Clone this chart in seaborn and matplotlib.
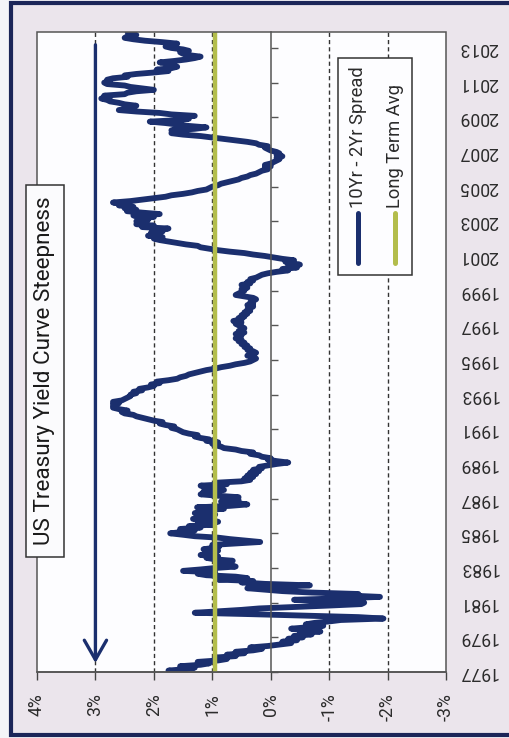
import numpy as np
import pandas as pd
import matplotlib
matplotlib.use("Agg")
import matplotlib.pyplot as plt
import seaborn as sns
from matplotlib.patches import Rectangle
from matplotlib.lines import Line2D

# ---------------- data (monthly 10Yr - 2Yr spread, %) ----------------
spread_1977_1986 = [
    1.55, 1.75, 1.45, 1.30, 1.55, 1.20, 1.05, 1.25, 0.90, 0.75, 0.95, 0.60,   # 1977
    0.75, 0.45, 0.60, 0.30, 0.15, 0.35, 0.05, -0.15, -0.35, -0.20, -0.45, -0.30,  # 1978
    -0.55, -0.40, -0.70, -0.50, -0.85, -0.60, -0.35, -0.65, -0.90, -0.60, -0.75, -1.00,  # 1979
    -1.20, -1.93, -1.50, -0.60, 0.30, 1.30, 0.90, 0.50, 0.20, -0.40, -1.00, -1.55,  # 1980
    -1.60, -0.90, -0.40, -1.20, -1.87, -1.30, -1.50, -0.70, -0.20, 0.10, 0.40, -0.20,  # 1981
    -0.67, 0.10, 0.50, 0.30, 0.90, 0.40, 0.60, 1.10, 1.25, 0.95, 1.50, 1.20,   # 1982
    0.95, 0.60, 0.85, 0.70, 0.90, 0.65, 0.95, 1.10, 0.90, 1.20, 0.95, 1.05,   # 1983
    0.90, 1.15, 0.95, 0.88, 1.00, 0.60, 0.18, 0.45, 0.70, 0.90, 1.30, 1.50,   # 1984
    1.72, 1.50, 1.30, 1.55, 1.20, 1.40, 1.00, 1.25, 0.90, 1.10, 1.33, 1.00,   # 1985
    1.20, 0.95, 1.30, 1.05, 1.15, 0.80, 1.26, 0.70, 0.40, 0.60, 0.85, 0.55,   # 1986
]
spread_1987_1996 = [
    0.70, 0.55, 0.90, 1.20, 1.00, 1.15, 0.80, 1.05, 0.90, 1.20, 0.75, 0.95,   # 1987
    0.50, 0.35, 0.45, 0.30, 0.40, 0.25, 0.35, 0.20, 0.30, 0.15, 0.20, 0.05,   # 1988
    -0.10, -0.30, -0.10, 0.05, 0.00, 0.15, 0.20, 0.35, 0.30, 0.50, 0.60, 0.80,  # 1989
    0.85, 0.95, 1.00, 0.90, 1.10, 1.05, 1.20, 1.30, 1.25, 1.40, 1.50, 1.55,   # 1990
    1.60, 1.70, 1.65, 1.80, 1.90, 1.85, 2.00, 2.10, 2.20, 2.30, 2.35, 2.50,   # 1991
    2.55, 2.45, 2.60, 2.70, 2.65, 2.70, 2.60, 2.70, 2.55, 2.50, 2.45, 2.40,   # 1992
    2.40, 2.30, 2.35, 2.20, 2.25, 2.10, 2.00, 2.05, 1.90, 1.95, 1.75, 1.60,   # 1993
    1.55, 1.45, 1.40, 1.30, 1.20, 1.10, 0.95, 0.85, 0.70, 0.60, 0.45, 0.35,   # 1994
    0.30, 0.25, 0.30, 0.40, 0.35, 0.25, 0.30, 0.40, 0.35, 0.45, 0.40, 0.50,   # 1995
    0.45, 0.55, 0.50, 0.60, 0.55, 0.50, 0.60, 0.45, 0.55, 0.50, 0.45, 0.50,   # 1996
]
spread_1997_2006 = [
    0.55, 0.60, 0.50, 0.64, 0.50, 0.55, 0.45, 0.50, 0.40, 0.45, 0.35, 0.40,   # 1997
    0.35, 0.30, 0.40, 0.30, 0.35, 0.30, 0.25, 0.30, 0.45, 0.60, 0.55, 0.50,   # 1998
    0.45, 0.50, 0.40, 0.45, 0.50, 0.35, 0.40, 0.30, 0.35, 0.25, 0.20, 0.15,   # 1999
    0.05, -0.10, -0.30, -0.20, -0.45, -0.30, -0.50, -0.35, -0.25, -0.40, -0.20, -0.05,  # 2000
    0.10, 0.30, 0.45, 0.70, 0.90, 1.05, 1.20, 1.25, 1.45, 1.60, 1.75, 1.90,   # 2001
    2.00, 1.85, 2.10, 1.90, 2.05, 1.85, 2.00, 1.75, 2.20, 2.00, 2.30, 2.15,   # 2002
    2.30, 2.10, 2.25, 2.00, 2.35, 1.90, 2.20, 2.46, 2.30, 2.50, 2.35, 2.60,   # 2003
    2.50, 2.70, 2.40, 2.20, 2.00, 1.80, 1.70, 1.50, 1.35, 1.25, 1.10, 1.05,   # 2004
    1.00, 0.90, 0.85, 0.75, 0.65, 0.55, 0.50, 0.40, 0.35, 0.25, 0.20, 0.15,   # 2005
    0.05, 0.10, 0.00, 0.10, 0.00, -0.05, -0.10, -0.15, -0.10, -0.20, -0.10, -0.15,  # 2006
]
spread_2007_2013 = [
    -0.10, 0.00, 0.05, 0.10, 0.05, 0.20, 0.25, 0.40, 0.60, 0.80, 1.00, 1.20,  # 2007
    1.50, 1.70, 1.55, 1.70, 1.30, 1.10, 1.40, 1.60, 1.80, 2.07, 1.60, 1.40,   # 2008
    1.60, 1.30, 1.70, 1.90, 2.30, 2.60, 2.40, 2.50, 2.30, 2.50, 2.60, 2.75,   # 2009
    2.80, 2.90, 2.75, 2.85, 2.50, 2.45, 2.30, 2.00, 2.20, 2.40, 2.50, 2.80,   # 2010
    2.85, 2.75, 2.80, 2.70, 2.45, 2.50, 2.30, 2.00, 1.75, 1.95, 1.70, 1.60,   # 2011
    1.70, 1.75, 1.90, 1.65, 1.45, 1.30, 1.20, 1.40, 1.50, 1.55, 1.40, 1.50,   # 2012
    1.70, 1.80, 1.75, 1.60, 1.85, 2.15, 2.35, 2.50, 2.45, 2.30, 2.40, 2.45,   # 2013
]
first_year = 1977
long_term_avg = 0.95
year_ticks = list(range(1977, 2014, 2))
pct_ticks = [4, 3, 2, 1, 0, -1, -2, -3]
pct_labels = ["4%", "3%", "2%", "1%", "0%", "-1%", "-2%", "-3%"]
dashed_grid = [3, 2, 1, -1, -2]
title = "US Treasury Yield Curve Steepness"
series_names = ["10Yr - 2Yr Spread", "Long Term Avg"]

spread = spread_1977_1986 + spread_1987_1996 + spread_1997_2006 + spread_2007_2013
dates = pd.date_range(f"{first_year}-01-01", periods=len(spread), freq="MS")
df = pd.DataFrame({"spread": spread,
                   "year": dates.year + (dates.month - 1) / 12.0})

# ---------------- styling ----------------
plt.rcParams["font.family"] = ["Roboto", "DejaVu Sans"]
NAVY = "#1b2f6e"
GOLD = "#b3bd4c"
TXT = "#2b2b2b"
W, H = 510, 738

fig = plt.figure(figsize=(W / 100, H / 100), dpi=100)
fig.patch.set_facecolor("#f4f4f8")

# outer scanned-page frame
fig.add_artist(Rectangle((11 / W, 1 - 735 / H), (540 - 11) / W, (735 - 3) / H,
                         transform=fig.transFigure, facecolor="#ebe5ec",
                         edgecolor="#1b2558", lw=3, zorder=-5))

ax = fig.add_axes([37 / W, 1 - 672 / H, (446 - 37) / W, (672 - 32) / H])
ax.set_facecolor("#fdfdff")

for g in dashed_grid:
    ax.axvline(g, color="#333333", lw=1.0, ls=(0, (3, 2.2)), zorder=1)

sns.lineplot(data=df, x="spread", y="year", sort=False, estimator=None,
             orient="y", color=NAVY, lw=4.2, ax=ax, legend=False, zorder=2)
ax.lines[-1].set_solid_joinstyle("round")
ax.lines[-1].set_solid_capstyle("round")

ax.axvline(long_term_avg, color=GOLD, lw=3.2, zorder=3)

ax.set_xlim(4, -3)
ax.set_ylim(1977, 2013.92)
ax.set_xlabel("")
ax.set_ylabel("")

# axes: category axis crosses at 0%
ax.spines["left"].set_position(("data", 0))
ax.spines["left"].set_color("#555555")
ax.spines["left"].set_linewidth(1.1)
ax.spines["bottom"].set_color("#444444")
ax.spines["bottom"].set_linewidth(1.1)
ax.spines["top"].set_visible(False)
ax.spines["right"].set_visible(False)
ax.add_patch(Rectangle((0, 0), 1, 1, transform=ax.transAxes, fill=False,
                       edgecolor="#555555", lw=1.1, clip_on=False, zorder=4))

ax.set_yticks(year_ticks)
ax.set_yticklabels([str(y) for y in year_ticks])
ax.tick_params(axis="y", left=True, right=False, labelleft=False,
               labelright=True, direction="in", length=5, width=1,
               color="#555555", pad=9, labelsize=12.7, labelcolor=TXT)
for t in ax.yaxis.get_major_ticks():
    t.label2.set_rotation(180)
    t.label2.set_va("center")
    t.label2.set_ha("left")

ax.set_xticks(pct_ticks)
ax.set_xticklabels(pct_labels)
ax.tick_params(axis="x", bottom=True, direction="out", length=6, width=1,
               color="#444444", pad=9, labelsize=12.7, labelcolor=TXT,
               labelrotation=90)

# arrow
ax.annotate("", xy=(3, 0.014), xytext=(3, 0.98),
            xycoords=("data", "axes fraction"),
            textcoords=("data", "axes fraction"),
            arrowprops=dict(arrowstyle="->,head_length=0.7,head_width=0.4",
                            color=NAVY, lw=2.4, mutation_scale=20,
                            shrinkA=0, shrinkB=0), zorder=5)

# title box
fig.add_artist(Rectangle((26 / W, 1 - 557 / H), 38 / W, 372 / H,
                         transform=fig.transFigure, facecolor="#fbfbfd",
                         edgecolor="#333333", lw=1.1, zorder=6))
fig.text(45 / W, 1 - 371 / H, title, rotation=90, ha="center", va="center",
         fontsize=16.2, color="#1a1a1a", zorder=7)

# legend box
fig.add_artist(Rectangle((338 / W, 1 - 275 / H), 74 / W, 217 / H,
                         transform=fig.transFigure, facecolor="#fdfdff",
                         edgecolor="#333333", lw=1.1, zorder=6))
for xc, col, name in [(358, NAVY, series_names[0]), (395, GOLD, series_names[1])]:
    fig.add_artist(Line2D([xc / W, xc / W], [1 - 263 / H, 1 - 213 / H],
                          transform=fig.transFigure, color=col, lw=3.6,
                          solid_capstyle="round", zorder=7))
    fig.text(xc / W, 1 - 208 / H, name, rotation=90, ha="center", va="bottom",
             fontsize=13.2, color=TXT, zorder=7)

fig.savefig("out.png", dpi=100, facecolor=fig.get_facecolor())
